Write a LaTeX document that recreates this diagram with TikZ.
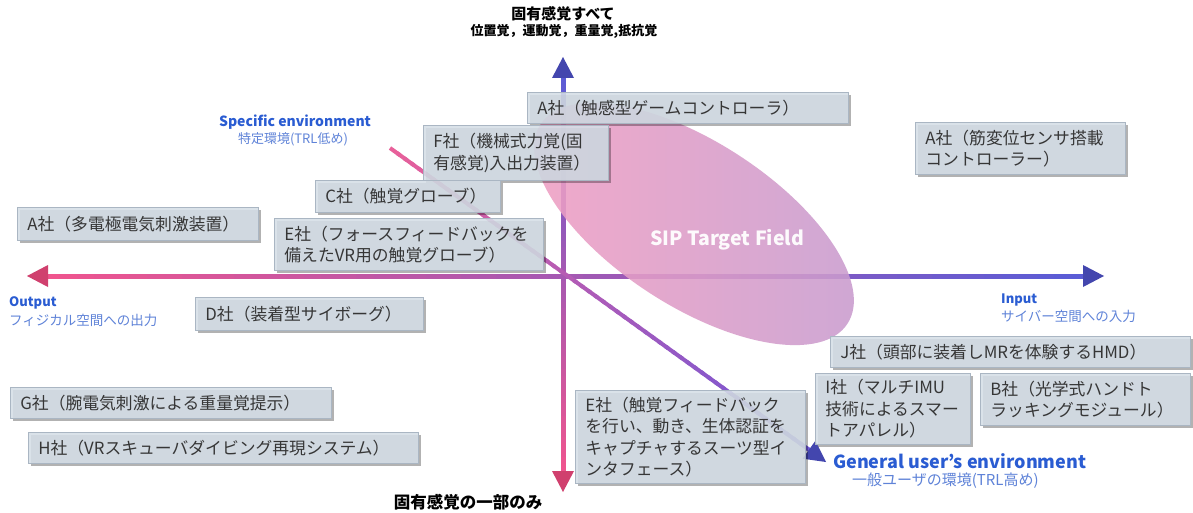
\documentclass[tikz,border=0pt]{standalone}
\usepackage{fontspec}
\setmainfont{Noto Sans CJK JP}
\usetikzlibrary{shadows,calc}
\definecolor{boxfill}{HTML}{D5DEE7}
\definecolor{boxdraw}{HTML}{AAB6C3}
\definecolor{txtgray}{HTML}{363636}
\definecolor{lblue}{HTML}{2A5CD2}
\definecolor{lbluetwo}{HTML}{5F83D8}
\definecolor{axpink}{HTML}{F0558E}
\definecolor{axblue}{HTML}{5A5CD6}
\definecolor{axpinkd}{HTML}{D0406E}
\definecolor{axblued}{HTML}{4346AE}
\definecolor{dgpink}{HTML}{E8609A}
\definecolor{dgblue}{HTML}{6E56D8}
\definecolor{elpink}{HTML}{F19FC2}
\definecolor{ellilac}{HTML}{C79BCF}
\begin{document}
\begin{tikzpicture}[x=1pt,y=-1pt,
  box/.style={draw=boxdraw, line width=0.8pt, fill=boxfill, fill opacity=0.88,
    text opacity=1, text=txtgray, anchor=north west, inner xsep=10pt, inner ysep=2pt,
    align=left, font={\fontsize{16.8pt}{21.5pt}\selectfont},
    drop shadow={shadow xshift=2.5pt, shadow yshift=-2.5pt, opacity=0.3, fill=black}},
  blab/.style={text=lblue, font={\bfseries\fontsize{13pt}{15pt}\selectfont}, inner sep=0pt},
  slab/.style={text=lbluetwo, font={\fontsize{13pt}{15pt}\selectfont}, inner sep=0pt},
  klab/.style={text=black, font={\bfseries\fontsize{14pt}{17pt}\selectfont}, inner sep=0pt}]
\useasboundingbox (0,0) rectangle (1193,513);
\fill[white] (0,0) rectangle (1193,513);

% axis end points
\coordinate (HL) at (27,276);
\coordinate (HR) at (1104,276);
\coordinate (VT) at (563,57);
\coordinate (VB) at (563,492);
\coordinate (DT) at (390,148);
\coordinate (DB) at (826,462);

% horizontal axis (gradient pink -> blue)
\foreach \i in {0,...,59}{
  \pgfmathsetmacro{\ta}{\i/60}
  \pgfmathsetmacro{\tb}{(\i+1.4)/60}
  \pgfmathtruncatemacro{\p}{100-\i*100/59}
  \draw[line width=5pt, color=axpink!\p!axblue]
    ($($(HL)!15pt!(HR)$)!\ta!($(HR)!15pt!(HL)$)$) -- ($($(HL)!15pt!(HR)$)!{min(\tb,1)}!($(HR)!15pt!(HL)$)$);
}
\fill[axpinkd] (HL) -- ++(21,-11) -- ++(0,22) -- cycle;
\fill[axblued] (HR) -- ++(-21,-11) -- ++(0,22) -- cycle;

% vertical axis (gradient blue -> pink)
\foreach \i in {0,...,59}{
  \pgfmathsetmacro{\ta}{\i/60}
  \pgfmathsetmacro{\tb}{(\i+1.4)/60}
  \pgfmathtruncatemacro{\p}{100-\i*100/59}
  \draw[line width=5pt, color=axblue!\p!axpink]
    ($($(VT)!15pt!(VB)$)!\ta!($(VB)!15pt!(VT)$)$) -- ($($(VT)!15pt!(VB)$)!{min(\tb,1)}!($(VB)!15pt!(VT)$)$);
}
\fill[axblued] (VT) -- ++(-11,21) -- ++(22,0) -- cycle;
\fill[axpinkd] (VB) -- ++(-11,-21) -- ++(22,0) -- cycle;

% diagonal (gradient pink -> violet)
\foreach \i in {0,...,59}{
  \pgfmathsetmacro{\ta}{\i/60}
  \pgfmathsetmacro{\tb}{(\i+1.4)/60}
  \pgfmathtruncatemacro{\p}{100-\i*100/59}
  \draw[line width=4pt, color=dgpink!\p!dgblue]
    ($(DT)!\ta!($(DB)!15pt!(DT)$)$) -- ($(DT)!{min(\tb,1)}!($(DB)!15pt!(DT)$)$);
}
\fill[axblued] (DB) -- ($(DB)!21pt!(DT)!11pt!90:(DT)$) -- ($(DB)!21pt!(DT)!11pt!-90:(DT)$) -- cycle;

% target ellipse
\shade[left color=elpink, right color=ellilac, opacity=0.88]
  (694,224) ellipse [x radius=183, y radius=82, rotate=-33];
\node[text=white, font={\bfseries\fontsize{19.5pt}{21pt}\selectfont}, text opacity=0.95] (sip) at (727,240) {SIP Target Field};

% company boxes
\node[box, text width=301pt, minimum height=31pt] (a1) at (527,92) {A社（触感型ゲームコントローラ）};
\node[box, text width=165pt, minimum height=55pt] (f1) at (423,125) {F社（機械式力覚(固\\有感覚)入出力装置）};
\node[box, text width=165pt, minimum height=32pt] (c1) at (315,180) {C社（触覚グローブ）};
\node[box, text width=221pt, minimum height=33pt] (a2) at (17,207) {A社（多電極電気刺激装置）};
\node[box, text width=249pt, minimum height=52pt] (e1) at (274,218) {E社（フォースフィードバックを\\備えたVR用の触覚グローブ）};
\node[box, text width=190pt, minimum height=52pt] (a3) at (915,122) {A社（筋変位センサ搭載\\コントローラー）};
\node[box, text width=208pt, minimum height=33pt] (d1) at (195,297) {D社（装着型サイボーグ）};
\node[box, text width=340pt, minimum height=31pt] (j1) at (830,336) {J社（頭部に装着しMRを体験するHMD）};
\node[box, text width=135pt, minimum height=71pt] (i1) at (815,373) {I社（マルチIMU\\技術によるスマー\\トアパレル）};
\node[box, text width=190pt, minimum height=52pt] (b1) at (980,373) {B社（光学式ハンドト\\ラッキングモジュール）};
\node[box, text width=301pt, minimum height=31pt] (g1) at (10,387) {G社（腕電気刺激による重量覚提示）};
\node[box, text width=370pt, minimum height=31pt] (h1) at (28,432) {H社（VRスキューバダイビング再現システム）};
\node[box, text width=210pt, minimum height=93pt] (e2) at (575,390) {E社（触覚フィードバック\\を行い、動き、生体認証を\\キャプチャするスーツ型イ\\ンタフェース）};

% axis labels
\node[klab, font={\bfseries\fontsize{15pt}{17pt}\selectfont}] (top1) at (563,14) {固有感覚すべて};
\node[klab, font={\bfseries\fontsize{13pt}{15pt}\selectfont}] (top2) at (564,31) {位置覚，運動覚，重量覚,抵抗覚};
\node[klab, font={\bfseries\fontsize{16.5pt}{18pt}\selectfont}] (bot1) at (468,502) {固有感覚の一部のみ};

\node[blab, font={\bfseries\fontsize{14pt}{16pt}\selectfont}] (spec1) at (295,122) {Specific environment};
\node[slab] (spec2) at (293,139) {特定環境(TRL低め)};

\node[blab, anchor=west] (out1) at (9,303) {Output};
\node[slab, anchor=west, font={\fontsize{13.5pt}{15pt}\selectfont}] (out2) at (9,320) {フィジカル空間への出力};

\node[blab, anchor=west] (in1) at (1001,300) {Input};
\node[slab, anchor=west, font={\fontsize{13.5pt}{15pt}\selectfont}] (in2) at (1001,316) {サイバー空間への入力};

\node[blab, anchor=west, font={\bfseries\fontsize{18pt}{20pt}\selectfont}] (gen1) at (833,461) {General user’s environment};
\node[slab, anchor=west, font={\fontsize{15pt}{17pt}\selectfont}] (gen2) at (852,481) {一般ユーザの環境(TRL高め)};
\end{tikzpicture}
\end{document}
